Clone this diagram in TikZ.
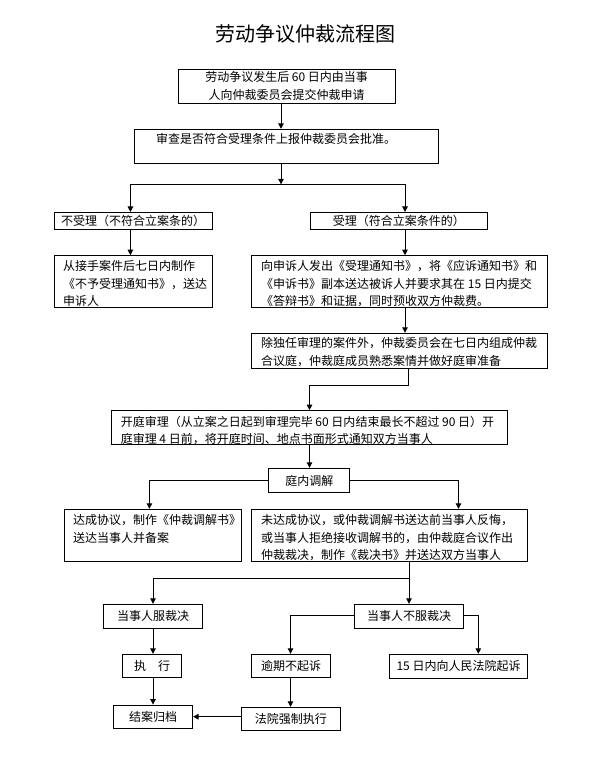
\documentclass[tikz,border=0pt]{standalone}
\usepackage{fontspec}
\newfontfamily\cjk{Noto Sans CJK SC}
\usetikzlibrary{arrows.meta}
\begin{document}
\begin{tikzpicture}[x=1pt,y=-1pt,
  box/.style={draw, line width=1pt, inner sep=0pt, align=center,
    font=\cjk\fontsize{12}{17.8}\selectfont},
  txt/.style={inner sep=0pt, anchor=north west, align=left,
    font=\cjk\fontsize{12}{17.8}\selectfont},
  arr/.style={line width=1pt, -{Triangle[length=5.5pt,width=5.5pt]}},
  ln/.style={line width=1pt}]
\useasboundingbox (0,0) rectangle (614,767);
\fill[white] (0,0) rectangle (614,767);

\node[font=\cjk\fontsize{20}{24}\selectfont, inner sep=0pt] (title) at (305,34) {劳动争议仲裁流程图};

\node[box, minimum width=217pt, minimum height=34pt] (b1) at (286.6,86.3)
  {劳动争议发生后 60 日内由当事\\人向仲裁委员会提交仲裁申请};
\node[box, minimum width=304pt, minimum height=34pt] (b2) at (286.6,146.3) {};
\node[txt] (t2) at (156,133.3) {审查是否符合受理条件上报仲裁委员会批准。};

\node[box, minimum width=158pt, minimum height=17pt] (n1) at (133.2,221) {不受理（不符合立案条的）};
\node[box, minimum width=177pt, minimum height=17pt] (n2) at (398.8,221) {受理（符合立案条件的）};

\node[box, minimum width=158pt, minimum height=51.6pt] (n3) at (133.2,281.5) {};
\node[txt] (t3) at (63,260) {从接手案件后七日内制作\\《不予受理通知书》，送达\\申诉人};
\node[box, minimum width=295.6pt, minimum height=51.6pt] (n4) at (399.6,281.5) {};
\node[txt] (t4) at (261,260) {向申诉人发出《受理通知书》，将《应诉通知书》和\\《申诉书》副本送达被诉人并要求其在 15 日内提交\\《答辩书》和证据，同时预收双方仲裁费。};

\node[box, minimum width=295.6pt, minimum height=35pt] (n5) at (399.6,350.8) {};
\node[txt] (t5) at (261,337.3) {除独任审理的案件外，仲裁委员会在七日内组成仲裁\\合议庭，仲裁庭成员熟悉案情并做好庭审准备};

\node[box, minimum width=396pt, minimum height=34.3pt] (n6) at (309.9,427.8) {};
\node[txt] (t6) at (120.6,415.7) {开庭审理（从立案之日起到审理完毕 60 日内结束最长不超过 90 日）开\\庭审理 4 日前，将开庭时间、地点书面形式通知双方当事人};

\node[box, minimum width=81pt, minimum height=24.4pt] (n7) at (309.3,480.5) {庭内调解};

\node[box, minimum width=177.5pt, minimum height=52.4pt] (n8) at (153.2,535.5) {};
\node[txt] (t8) at (73,514) {达成协议，制作《仲裁调解书》\\送达当事人并备案};
\node[box, minimum width=275.9pt, minimum height=52.4pt] (n9) at (389.7,535.5) {};
\node[txt] (t9) at (261,514) {未达成协议，或仲裁调解书送达前当事人反悔，\\或当事人拒绝接收调解书的，由仲裁庭合议作出\\仲裁裁决，制作《裁决书》并送达双方当事人};

\node[box, minimum width=98.8pt, minimum height=24pt] (n10) at (153,616.3) {当事人服裁决};
\node[box, minimum width=109pt, minimum height=24pt] (n11) at (409.1,616.3) {当事人不服裁决};

\node[box, minimum width=59.3pt, minimum height=23pt] (n12) at (152.2,665.8) {执　行};
\node[box, minimum width=78.6pt, minimum height=23pt] (n13) at (291.1,665.8) {逾期不起诉};
\node[box, minimum width=138.4pt, minimum height=24pt] (n14) at (458.5,666.3) {15 日内向人民法院起诉};

\node[box, minimum width=79pt, minimum height=23.3pt] (n15) at (153,716.7) {结案归档};
\node[box, minimum width=98.8pt, minimum height=23.4pt] (n16) at (290.9,719) {法院强制执行};

% connectors
\coordinate (j1) at (281,184.3);
\coordinate (jl) at (130.4,184.3);
\coordinate (jr) at (405,184.3);
\draw[arr] (j1 |- b1.south) -- (j1 |- b2.north);
\draw[arr] (j1 |- b2.south) -- (j1);
\draw[ln] (jl) -- (jr);
\draw[arr] (jl) -- (jl |- n1.north);
\draw[arr] (jr) -- (jr |- n2.north);
\draw[arr] (jl |- n1.south) -- (jl |- n3.north);
\draw[arr] (jr |- n2.south) -- (jr |- n4.north);
\draw[arr] (jr |- n4.south) -- (jr |- n5.north);

\coordinate (k1) at (408.3,385);
\coordinate (k2) at (309.5,385);
\draw[arr] (k1 |- n5.south) -- (k1) -- (k2) -- (k2 |- n6.north);
\draw[arr] (k2 |- n6.south) -- (k2 |- n7.north);

\coordinate (m1) at (149.4,480.5);
\coordinate (m2) at (458.5,480.5);
\draw[arr] (n7.west) -- (m1) -- (m1 |- n8.north);
\draw[arr] (n7.east) -- (m2) -- (m2 |- n9.north);

\coordinate (p1) at (409,578.3);
\coordinate (p2) at (153,578.3);
\draw[arr] (p1 |- n9.south) -- (p1 |- n11.north);
\draw[arr] (p1) -- (p2) -- (p2 |- n10.north);
\draw[arr] (p2 |- n10.south) -- (p2 |- n12.north);

\coordinate (q1) at (290.5,615);
\coordinate (q2) at (478.3,615);
\draw[arr] (n11.west |- q1) -- (q1) -- (q1 |- n13.north);
\draw[arr] (n11.east |- q2) -- (q2) -- (q2 |- n14.north);

\draw[arr] (p2 |- n12.south) -- (p2 |- n15.north);
\draw[arr] (q1 |- n13.south) -- (q1 |- n16.north);
\draw[arr] (n16.west |- n15.east) -- (n15.east);
\end{tikzpicture}
\end{document}
